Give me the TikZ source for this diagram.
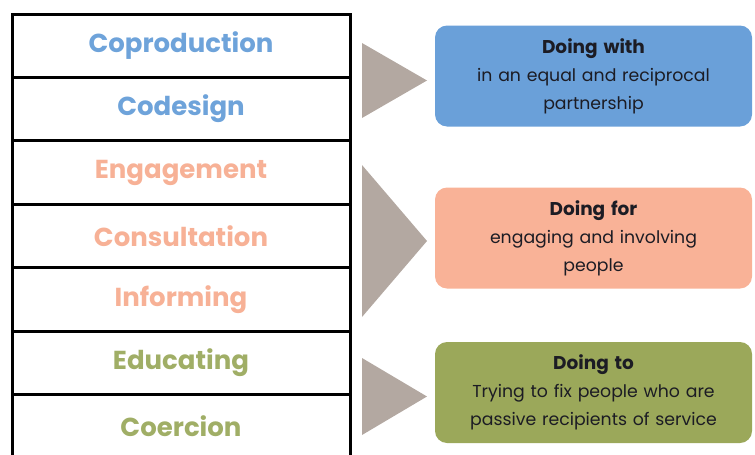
\documentclass[tikz,border=0pt]{standalone}
\usepackage{fontspec}
\setmainfont{Poppins}
\usepackage{tikz}
\usetikzlibrary{positioning}
\definecolor{withcolor}{RGB}{106, 160, 217}
\definecolor{withtext}{RGB}{110, 163, 218}
\definecolor{forcolor}{RGB}{249, 178, 151}
\definecolor{fortext}{RGB}{247, 177, 150}
\definecolor{tocolor}{RGB}{155, 168, 90}
\definecolor{totext}{RGB}{160, 174, 102}
\definecolor{pointer}{RGB}{179, 168, 161}
\definecolor{inktext}{RGB}{28, 28, 36}
\tikzstyle{rung} = [rectangle, draw=black, line width=3pt, outer sep=0pt, minimum width=338pt,
                    minimum height=63.4pt, text centered, font=\bfseries\fontsize{26}{30}\selectfont]
\tikzstyle{mode} = [rectangle, rounded corners=12pt, minimum width=317pt, minimum height=101pt,
                    text width=300pt, align=center, text=inktext, font=\fontsize{17.3}{28}\selectfont]
\tikzstyle{pointer} = [fill=pointer]
\newcommand{\modehead}[1]{{\bfseries\fontsize{18.5}{28}\selectfont #1}}

\begin{document}
\begin{tikzpicture}[x=1pt, y=-1pt]
    \useasboundingbox (0,0) rectangle (755,455);
    % Ladder
    \node[rung, text=withtext] (coproduction) at (181,45.7) {Coproduction};
    \node[rung, text=withtext, below=0pt of coproduction] (codesign) {Codesign};
    \node[rung, text=fortext, below=0pt of codesign] (engagement) {Engagement};
    \node[rung, text=fortext, below=0pt of engagement] (consultation) {Consultation};
    \node[rung, text=fortext, below=0pt of consultation] (informing) {Informing};
    \node[rung, text=totext, below=0pt of informing] (educating) {Educating};
    \node[rung, text=totext, below=0pt of educating] (coercion) {Coercion};

    % Modes
    \node[mode, fill=withcolor] (with) at (593.5,76) {\modehead{Doing with}\\in an equal and reciprocal\\partnership};
    \node[mode, fill=forcolor] (for) at (593.5,238) {\modehead{Doing for}\\engaging and involving\\people};
    \node[mode, fill=tocolor] (to) at (593.5,392.5) {\modehead{Doing to}\\Trying to fix people who are\\passive recipients of service};

    % Pointers
    \fill[pointer] (362,43) -- (427,80.5) -- (362,118) -- cycle;
    \fill[pointer] (362,165) -- (427,241) -- (362,317) -- cycle;
    \fill[pointer] (362,358) -- (427,396.5) -- (362,435) -- cycle;
\end{tikzpicture}
\end{document}
